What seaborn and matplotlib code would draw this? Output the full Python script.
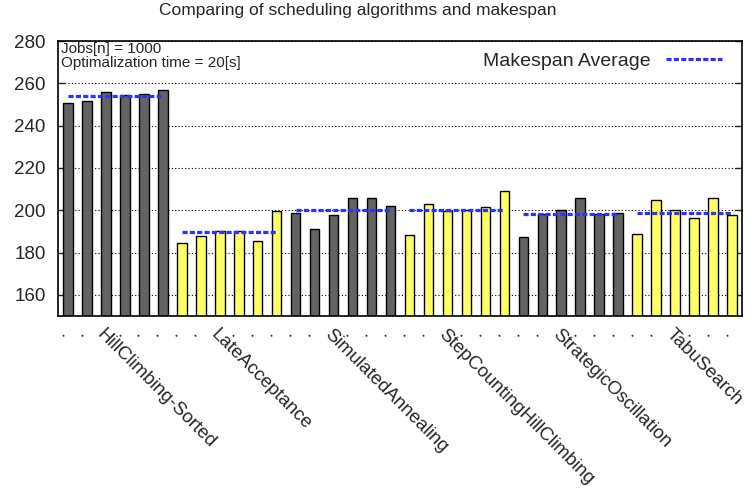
import numpy as np
import pandas as pd
import matplotlib
matplotlib.use('Agg')
import matplotlib.pyplot as plt
import seaborn as sns

# data
algorithms = ['HillClimbing-Sorted', 'LateAcceptance', 'SimulatedAnnealing',
              'StepCountingHillClimbing', 'StrategicOscillation', 'TabuSearch']
hill_climbing_sorted = [250.6, 251.7, 255.9, 254.5, 254.8, 256.7]
late_acceptance = [184.6, 187.6, 190.4, 190.4, 185.5, 199.7]
simulated_annealing = [198.6, 191.0, 197.6, 206.0, 206.0, 202.2]
step_counting = [188.5, 203.0, 199.7, 200.2, 201.4, 209.0]
strategic_oscillation = [187.4, 198.0, 200.0, 205.8, 198.3, 198.7]
tabu_search = [188.7, 204.7, 200.0, 196.2, 206.0, 197.6]
series = [hill_climbing_sorted, late_acceptance, simulated_annealing,
          step_counting, strategic_oscillation, tabu_search]

tick_labels = []
for name in algorithms:
    tick_labels += ['.', '.', name, '.', '.', '.']

bar_colors = ['#636363', '#ffff66']

sns.set_style('white')
plt.rcParams['font.family'] = ['Liberation Sans', 'DejaVu Sans']

rows = []
for g, (name, vals) in enumerate(zip(algorithms, series)):
    for v in vals:
        rows.append({'pos': len(rows), 'makespan': v, 'algorithm': name})
df = pd.DataFrame(rows)
palette = {name: bar_colors[i % 2] for i, name in enumerate(algorithms)}

fig = plt.figure(figsize=(7.54, 4.97), dpi=100)
ax = fig.add_axes([58 / 754, 1 - 316 / 497, 684 / 754, 275 / 497])

sns.barplot(data=df, x='pos', y='makespan', hue='algorithm', palette=palette,
            dodge=False, width=0.5, edgecolor='black', linewidth=1,
            saturation=1, legend=False, ax=ax)

# average makespan per algorithm
for g, name in enumerate(algorithms):
    sub = df[df['algorithm'] == name]
    m = sub['makespan'].mean()
    ax.plot([sub['pos'].min(), sub['pos'].max()], [m, m], color='#3030ff',
            lw=2.3, dashes=(1.6, 0.7), solid_capstyle='butt',
            label='Makespan Average' if g == 0 else None, zorder=5)

ax.set_ylim(150, 280)
ax.set_xlim(-0.53, 35.53)
ax.set_yticks(range(160, 281, 20))
ax.yaxis.grid(True, linestyle=(0, (1, 2)), color='black', linewidth=0.8)
ax.set_axisbelow(True)
ax.set_xticks(range(len(tick_labels)))
ax.set_xticklabels(tick_labels, rotation=-45, ha='left', va='top',
                   rotation_mode='anchor', fontsize=13.5)
ax.tick_params(axis='x', length=0, pad=7)
ax.tick_params(axis='y', direction='in', length=5, right=True, left=True,
               labelsize=13.5, pad=9, width=1)
ax.set_xlabel('')
ax.set_ylabel('')
for s in ax.spines.values():
    s.set_color('black')
    s.set_linewidth(1.2)

ax.text(0.005, 0.995, 'Jobs[n] = 1000\nOptimalization time = 20[s]',
        transform=ax.transAxes, ha='left', va='top', fontsize=11,
        linespacing=0.95)

ax.legend(loc='upper right', frameon=False, markerfirst=False, fontsize=14,
          handlelength=2.9, borderaxespad=0.2, bbox_to_anchor=(0.988, 1.0))

fig.text(0.475, 0.994, 'Comparing of scheduling algorithms and makespan',
         ha='center', va='top', fontsize=12.5)

fig.savefig('out.png', dpi=100)
